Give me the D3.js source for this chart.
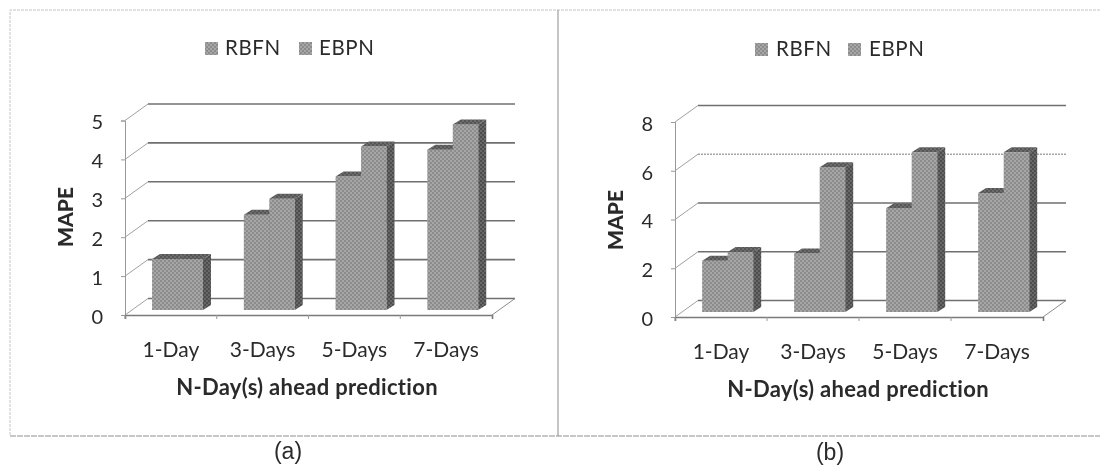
<!DOCTYPE html>
<html><head><meta charset="utf-8">
<script src="https://cdn.jsdelivr.net/npm/d3@7"></script>
<style>
html,body{margin:0;padding:0;background:#fff}
svg{display:block}
text{font-family:Lato,"Open Sans",sans-serif;fill:#2b2b2b}
</style></head><body>
<svg id="c" width="1102" height="465"></svg>
<script>
const categories = ["1-Day","3-Days","5-Days","7-Days"];
const seriesNames = ["RBFN","EBPN"];
const rbfnA = [1.31,2.45,3.43,4.12];
const ebpnA = [1.31,2.86,4.2,4.77];
const rbfnB = [2.1,2.4,4.26,4.88];
const ebpnB = [2.46,5.94,6.55,6.55];
const ticksA = [0,1,2,3,4,5];
const ticksB = [0,2,4,6,8];
const yTitle = "MAPE";
const xTitle = "N-Day(s) ahead prediction";
const captions = ["(a)","(b)"];

const svg = d3.select("#c");
const defs = svg.append("defs");
const pat = (id, bg, dot) => {
  const p = defs.append("pattern").attr("id",id).attr("width",4).attr("height",4).attr("patternUnits","userSpaceOnUse");
  p.append("rect").attr("width",4).attr("height",4).attr("fill",bg);
  p.append("rect").attr("width",2).attr("height",2).attr("fill",dot);
  p.append("rect").attr("x",2).attr("y",2).attr("width",2).attr("height",2).attr("fill",dot);
};
pat("front","#a6a6a6","#8c8c8c");
pat("side","#686868","#4e4e4e");
pat("top","#6c6c6c","#545454");
const blur = defs.append("filter").attr("id","soft").attr("x","-2%").attr("y","-2%").attr("width","104%").attr("height","104%");
blur.append("feGaussianBlur").attr("stdDeviation",0.5);

const root = svg.append("g").attr("filter","url(#soft)");
const frame = root.append("g").attr("fill","none");
frame.append("path").attr("d","M1100,10H10V436").attr("stroke","#c4c4c4").attr("stroke-dasharray","3 1");
frame.append("path").attr("d","M10,436H1100").attr("stroke","#8f8f8f").attr("stroke-dasharray","6 1");
frame.append("line").attr("x1",558).attr("x2",558).attr("y1",10).attr("y2",436).attr("stroke","#8a8a8a");

function panel(cfg){
  const {x0, x1, y0, yTop, max, ticks, rbfn, ebpn, dx, dy} = cfg;
  const g = root.append("g");
  const x = d3.scaleBand().domain(categories).range([x0,x1]);
  const y = d3.scaleLinear().domain([0,max]).range([y0,yTop]);
  const inner = d3.scaleBand().domain(seriesNames).range([x.bandwidth()*0.295,x.bandwidth()*0.85]);

  ticks.forEach(t=>{
    const faded = t===cfg.fadedTick;
    g.append("line").attr("x1",x0+dx).attr("x2",x1+dx).attr("y1",y(t)-dy).attr("y2",y(t)-dy)
      .attr("stroke",faded?"#a5a5a5":"#6f6f6f").attr("stroke-width",1.6)
      .attr("stroke-dasharray",faded?"2 1":null);
    g.append("line").attr("x1",x0).attr("x2",x0+dx).attr("y1",y(t)).attr("y2",y(t)-dy)
      .attr("stroke","#a0a0a0").attr("stroke-width",1);
  });
  g.append("line").attr("x1",x1).attr("x2",x1+dx).attr("y1",y0).attr("y2",y0-dy).attr("stroke","#8c8c8c").attr("stroke-width",1);

  const ya = d3.axisLeft(y).tickValues(ticks).tickSize(4).tickFormat(d3.format("d"));
  const ay = g.append("g").attr("transform",`translate(${x0},0)`).call(ya);
  ay.select(".domain").attr("stroke","#999");
  ay.selectAll("line").attr("stroke","#999");
  ay.selectAll("text").attr("font-size",20).attr("x",-cfg.tickGap).attr("dy","0.42em").attr("fill","#222");

  const xa = d3.axisBottom(x).tickSize(4).tickSizeOuter(4);
  const ax = g.append("g").attr("transform",`translate(0,${y0})`).call(xa);
  ax.select(".domain").attr("stroke","#7a7a7a").attr("stroke-width",1.6);
  ax.selectAll(".tick line").attr("x1",-x.bandwidth()/2).attr("x2",-x.bandwidth()/2).attr("stroke","#999");
  ax.selectAll("text").attr("font-size",21).attr("y",cfg.catY).attr("dy",0).attr("fill","#2b2b2b").attr("dominant-baseline","middle");

  const bdx = 8, bdy = 5, baseLift = 5;
  categories.forEach((c,ci)=>{
    seriesNames.forEach((s,si)=>{
      const v = (si===0?rbfn:ebpn)[ci];
      const l = x(c)+inner(s), w = inner.bandwidth();
      const b = y(0)-baseLift, t = y(v)-baseLift;
      const bg = g.append("g");
      bg.append("rect").attr("x",l).attr("y",t).attr("width",w).attr("height",b-t).attr("fill","url(#front)");
      bg.append("path").attr("fill","url(#top)")
        .attr("d",`M${l},${t}L${l+bdx},${t-bdy}L${l+w+bdx},${t-bdy}L${l+w},${t}Z`);
      bg.append("path").attr("fill","url(#side)")
        .attr("d",`M${l+w},${t}L${l+w+bdx},${t-bdy}L${l+w+bdx},${b-bdy}L${l+w},${b}Z`);
    });
  });

  g.append("text").attr("transform",`translate(${cfg.yTitleX},${cfg.yTitleY}) rotate(-90)`)
    .attr("text-anchor","middle").attr("dominant-baseline","middle")
    .attr("font-size",21).attr("font-weight",900).text(yTitle);
  g.append("text").attr("x",cfg.xTitleX).attr("y",cfg.xTitleY).attr("text-anchor","middle").attr("dominant-baseline","middle")
    .attr("font-size",22).attr("font-weight",700).attr("letter-spacing",0.3).text(xTitle);
  g.append("text").attr("x",cfg.capX).attr("y",cfg.capY).attr("text-anchor","middle").attr("dominant-baseline","middle")
    .style("font-family","'Liberation Sans',sans-serif").attr("font-size",23).text(cfg.caption);

  seriesNames.forEach((s,i)=>{
    const lx = cfg.legendX[i];
    g.append("rect").attr("x",lx).attr("y",cfg.legendY-6).attr("width",13).attr("height",13).attr("fill","url(#front)");
    g.append("text").attr("x",lx+cfg.legendGap).attr("y",cfg.legendY+1.5).attr("dominant-baseline","middle").attr("font-size",20.5).attr("letter-spacing",0.6).text(s);
  });
}

panel({x0:125,x1:492,y0:315,yTop:120.5,max:5,ticks:ticksA,rbfn:rbfnA,ebpn:ebpnA,dx:23,dy:16.5,tickGap:22,catY:37,
  yTitleX:68,yTitleY:217,xTitleX:307,xTitleY:389,capX:288,capY:453,caption:captions[0],legendX:[205,299],legendGap:20,legendY:48});
panel({x0:675,x1:1043,y0:317,yTop:122,max:8,ticks:ticksB,rbfn:rbfnB,ebpn:ebpnB,dx:23,dy:16.5,tickGap:22,catY:37,fadedTick:6,
  yTitleX:618,yTitleY:220,xTitleX:858,xTitleY:391,capX:830,capY:454,caption:captions[1],legendX:[755,848],legendGap:21,legendY:49});
</script></body></html>
